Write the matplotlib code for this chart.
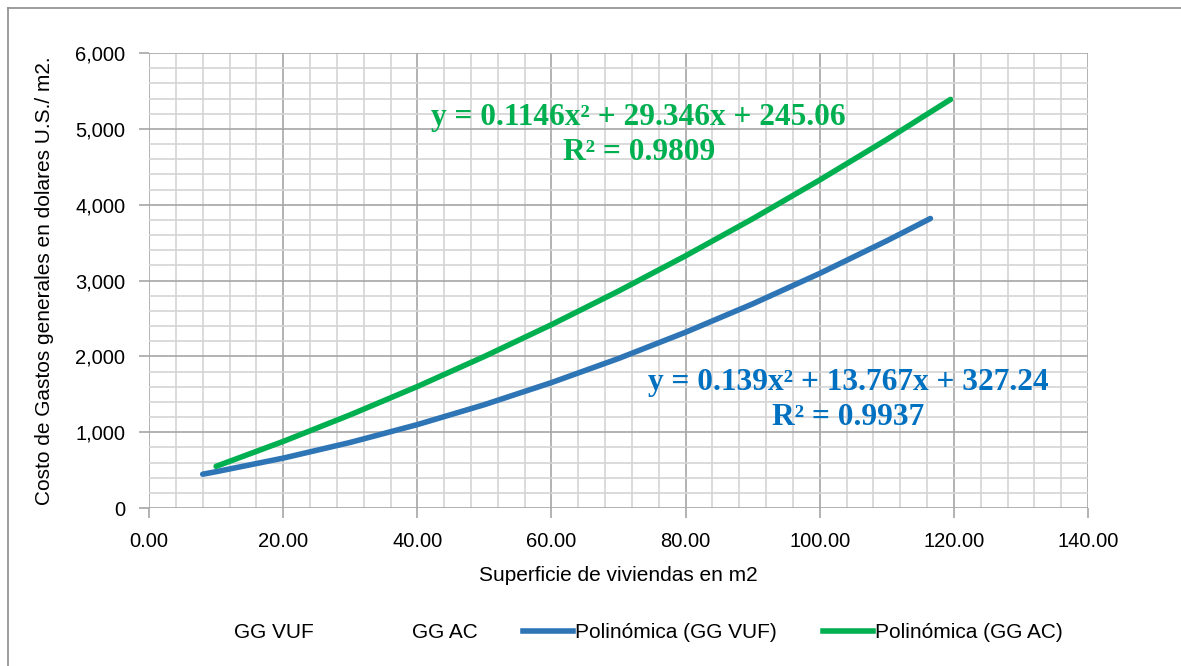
import matplotlib.pyplot as plt
from matplotlib.lines import Line2D
from matplotlib.ticker import MultipleLocator, FuncFormatter

# Trendline points
vuf_x = [8, 10, 20, 30, 40, 50, 60, 70, 80, 90, 100, 110, 116.5]
vuf_y = [446, 479, 658, 865, 1100, 1363, 1654, 1972, 2318, 2692, 3094, 3524, 3818]

ac_x = [10, 20, 30, 40, 50, 60, 70, 80, 90, 100, 110, 119.5]
ac_y = [550, 878, 1229, 1602, 1999, 2418, 2861, 3326, 3814, 4326, 4860, 5388]

eq_vuf = "y = 0.139x² + 13.767x + 327.24\nR² = 0.9937"
eq_ac = "y = 0.1146x² + 29.346x + 245.06\nR² = 0.9809"

legend_labels = ["GG VUF", "GG AC", "Polinómica (GG VUF)", "Polinómica (GG AC)"]

blue = "#2E75B6"
green = "#00B050"
serif = ["Liberation Serif", "DejaVu Serif"]

plt.rcParams['font.family'] = ["Liberation Sans", "DejaVu Sans"]

fig = plt.figure(figsize=(11.81, 6.66), dpi=100)
ax = fig.add_axes([0.1262, 0.2372, 0.7951, 0.6832])

ax.plot(vuf_x, vuf_y, color=blue, lw=4, solid_capstyle='round')
ax.plot(ac_x, ac_y, color=green, lw=4, solid_capstyle='round')

ax.set_xlim(0, 140)
ax.set_ylim(0, 6000)
ax.xaxis.set_major_locator(MultipleLocator(20))
ax.xaxis.set_minor_locator(MultipleLocator(4))
ax.yaxis.set_major_locator(MultipleLocator(1000))
ax.yaxis.set_minor_locator(MultipleLocator(200))
ax.xaxis.set_major_formatter(FuncFormatter(lambda v, p: f"{v:.2f}"))
ax.yaxis.set_major_formatter(FuncFormatter(lambda v, p: f"{v:,.0f}"))

ax.grid(which='major', color='#A6A6A6', lw=1.2)
ax.grid(which='minor', color='#D4D4D4', lw=1.2)
ax.set_axisbelow(True)
for s in ax.spines.values():
    s.set_visible(False)
ax.tick_params(which='major', length=7, width=1.2, color='#A6A6A6', labelsize=14.5)
ax.tick_params(which='minor', length=0)
ax.tick_params(axis='x', pad=10)
ax.tick_params(axis='y', pad=10)

ax.set_xlabel("Superficie de viviendas en m2", fontsize=15, labelpad=11)
ax.set_ylabel("Costo de Gastos generales en dolares U.S./ m2.", fontsize=15,
              labelpad=15)

ax.text(73, 4918, eq_ac, color=green, fontsize=22.6, fontweight='bold',
        family=serif, ha='center', va='center', linespacing=1.3)
ax.text(104.2, 1424, eq_vuf, color='#0070C0', fontsize=22.6, fontweight='bold',
        family=serif, ha='center', va='center', linespacing=1.3)

handles = [Line2D([], [], ls='none'), Line2D([], [], ls='none'),
           Line2D([], [], color=blue, lw=4), Line2D([], [], color=green, lw=4)]
fig.legend(handles, legend_labels, loc='center', bbox_to_anchor=(0.527, 0.05),
           ncol=4, frameon=False, prop={'size': 15},
           handlelength=2.4, handletextpad=0.1, columnspacing=2.2)

# outer chart border (top and left only visible)
fig.add_artist(Line2D([0.0068, 1], [0.988, 0.988], color='#8C8C8C', lw=1.2))
fig.add_artist(Line2D([0.0068, 0.0068], [0, 0.988], color='#8C8C8C', lw=1.2))

fig.savefig("out.png", dpi=100)
